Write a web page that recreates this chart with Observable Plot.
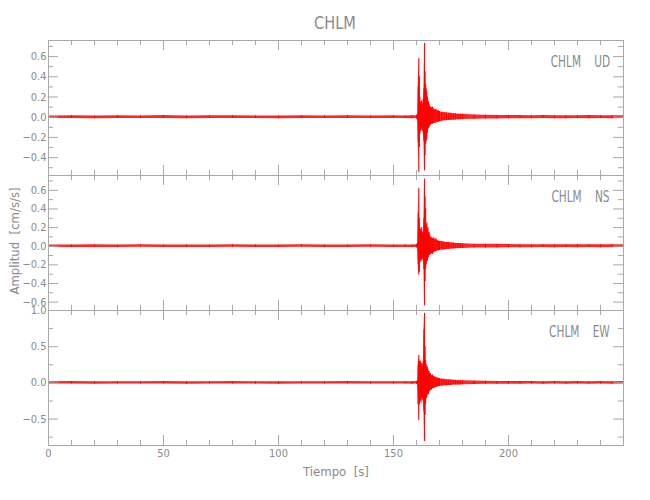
<!DOCTYPE html>
<html>
<head>
<meta charset="utf-8">
<script src="https://cdn.jsdelivr.net/npm/d3@7"></script>
<script src="https://cdn.jsdelivr.net/npm/@observablehq/plot@0.6"></script>
<style>
  html, body { margin: 0; padding: 0; background: #fff; }
  #wrap { position: relative; width: 650px; height: 500px; background: #fff; overflow: hidden;
          font-family: "Liberation Sans Narrow", "DejaVu Sans Condensed", "Roboto", sans-serif; color: #8a8a8a; }
  .lab { position: absolute; white-space: pre; line-height: 1; }
  .panel { position: absolute; left: 0; }
</style>
</head>
<body>
<div id="wrap"></div>
<script>
// ---------------- data ----------------
const title = "CHLM";
const station = "CHLM";
const components = ["UD", "NS", "EW"];
const xLabel = "Tiempo  [s]";
const yLabel = "Amplitud  [cm/s/s]";

// sample times (s) of the envelope (min/max) of each trace
const times = [0,10,20,30,40,50,60,70,80,90,100,110,120,130,140,150,155,158,160,
  160.25,160.5,160.75,161,161.25,161.5,161.75,162,162.25,162.5,162.75,163,163.25,163.5,163.75,164,
  164.25,164.5,164.75,165,165.25,165.5,165.75,166,166.5,167,167.5,168,168.5,169,169.5,170,
  171,172,173,174,175,176,177,178,179,180,
  185,190,195,200,205,210,215,220,225,230,235,240,245,250];

const udHi = [0.013,0.015,0.012,0.014,0.013,0.016,0.012,0.014,0.015,0.013,0.012,0.014,0.013,0.015,0.012,0.014,0.013,0.014,0.015,
  0.02,0.03,0.3,0.58,0.4,0.2,0.15,0.13,0.16,0.11,0.14,0.18,0.28,0.73,0.45,0.32,0.28,0.25,0.2,0.16,0.15,0.13,0.11,0.1,0.09,0.1,0.08,0.07,0.076,0.06,0.065,0.055,
  0.05,0.045,0.043,0.04,0.038,0.035,0.033,0.03,0.03,0.028,
  0.022,0.02,0.018,0.017,0.016,0.015,0.016,0.015,0.014,0.015,0.016,0.014,0.015,0.014];
const udLo = [-0.013,-0.012,-0.015,-0.013,-0.014,-0.012,-0.015,-0.013,-0.012,-0.014,-0.015,-0.012,-0.013,-0.012,-0.014,-0.013,-0.012,-0.015,-0.014,
  -0.02,-0.03,-0.25,-0.55,-0.3,-0.17,-0.14,-0.12,-0.11,-0.14,-0.12,-0.16,-0.24,-0.53,-0.38,-0.27,-0.24,-0.22,-0.16,-0.12,-0.11,-0.1,-0.09,-0.08,-0.07,-0.07,-0.06,-0.06,-0.056,-0.05,-0.05,-0.045,
  -0.04,-0.035,-0.035,-0.033,-0.03,-0.03,-0.028,-0.026,-0.025,-0.024,
  -0.02,-0.018,-0.017,-0.016,-0.015,-0.015,-0.014,-0.015,-0.016,-0.014,-0.015,-0.014,-0.015,-0.014];

const nsHi = [0.014,0.012,0.015,0.013,0.016,0.013,0.014,0.012,0.015,0.014,0.013,0.016,0.012,0.014,0.015,0.013,0.014,0.012,0.015,
  0.02,0.03,0.35,0.62,0.3,0.2,0.18,0.14,0.2,0.15,0.12,0.16,0.3,0.72,0.53,0.4,0.22,0.25,0.18,0.2,0.14,0.15,0.12,0.1,0.09,0.08,0.09,0.07,0.08,0.06,0.055,0.05,
  0.05,0.045,0.04,0.04,0.035,0.035,0.03,0.03,0.028,0.027,
  0.022,0.02,0.02,0.018,0.017,0.016,0.017,0.016,0.015,0.017,0.016,0.015,0.016,0.015];
const nsLo = [-0.012,-0.014,-0.013,-0.015,-0.012,-0.014,-0.013,-0.015,-0.012,-0.013,-0.014,-0.012,-0.015,-0.013,-0.012,-0.014,-0.013,-0.015,-0.013,
  -0.02,-0.03,-0.2,-0.31,-0.28,-0.18,-0.15,-0.17,-0.13,-0.15,-0.12,-0.15,-0.25,-0.64,-0.38,-0.25,-0.2,-0.17,-0.16,-0.13,-0.12,-0.1,-0.1,-0.09,-0.08,-0.09,-0.07,-0.06,-0.06,-0.05,-0.05,-0.045,
  -0.04,-0.04,-0.035,-0.035,-0.03,-0.03,-0.028,-0.025,-0.025,-0.024,
  -0.02,-0.02,-0.018,-0.017,-0.016,-0.016,-0.015,-0.016,-0.015,-0.016,-0.015,-0.016,-0.015,-0.015];

const ewHi = [0.016,0.018,0.015,0.017,0.016,0.019,0.015,0.017,0.018,0.016,0.015,0.017,0.016,0.018,0.015,0.017,0.016,0.017,0.018,
  0.02,0.03,0.25,0.38,0.3,0.25,0.3,0.22,0.27,0.2,0.25,0.3,0.73,0.96,0.5,0.31,0.25,0.2,0.22,0.18,0.15,0.16,0.12,0.13,0.1,0.11,0.09,0.08,0.07,0.07,0.06,0.06,
  0.05,0.05,0.045,0.04,0.04,0.035,0.035,0.03,0.03,0.03,
  0.025,0.022,0.02,0.02,0.018,0.018,0.017,0.018,0.017,0.018,0.017,0.018,0.017,0.018];
const ewLo = [-0.016,-0.015,-0.018,-0.016,-0.017,-0.015,-0.018,-0.016,-0.015,-0.017,-0.018,-0.015,-0.016,-0.015,-0.017,-0.016,-0.015,-0.018,-0.017,
  -0.02,-0.03,-0.3,-0.52,-0.3,-0.22,-0.25,-0.28,-0.2,-0.24,-0.2,-0.25,-0.4,-0.81,-0.45,-0.3,-0.22,-0.2,-0.17,-0.15,-0.16,-0.13,-0.12,-0.1,-0.1,-0.08,-0.08,-0.07,-0.06,-0.06,-0.05,-0.05,
  -0.045,-0.04,-0.04,-0.035,-0.035,-0.03,-0.03,-0.03,-0.028,-0.027,
  -0.022,-0.02,-0.02,-0.018,-0.018,-0.017,-0.018,-0.017,-0.018,-0.017,-0.018,-0.017,-0.018,-0.017];

// axes
const xDomain = [0, 250];
const xMajor = [0, 50, 100, 150, 200];
const xMinor = [10,20,30,40,60,70,80,90,110,120,130,140,160,170,180,190,210,220,230,240];

const yDomains = [[-0.577, 0.759], [-0.69, 0.759], [-0.865, 1.0]];
const yMajors = [[-0.4,-0.2,0,0.2,0.4,0.6], [-0.6,-0.4,-0.2,0,0.2,0.4,0.6], [-0.5,0,0.5,1.0]];
const yMinors = [[-0.5,-0.3,-0.1,0.1,0.3,0.5,0.7], [-0.5,-0.3,-0.1,0.1,0.3,0.5,0.7], [-0.75,-0.25,0.25,0.75]];

const his = [udHi, nsHi, ewHi];
const los = [udLo, nsLo, ewLo];

// ---------------- layout ----------------
const W = 650, mL = 48, mR = 27, panelH = 135;
const panelTops = [40, 175, 310];
const axisColor = "#a8a8a8";
const textColor = "#8a8a8a";
const font = `"Liberation Sans Narrow", "DejaVu Sans Condensed", sans-serif`;
const fmt = d3.format(".1f");
const wrap = document.getElementById("wrap");

function label(text, css) {
  const d = document.createElement("div");
  d.className = "lab";
  d.textContent = text;
  Object.assign(d.style, css);
  wrap.appendChild(d);
  return d;
}

components.forEach((comp, i) => {
  const data = times.map((t, k) => ({t, hi: his[i][k], lo: los[i][k]}));
  const last = i === components.length - 1;
  const mT = 20, mB = last ? 40 : 20;
  const plotW = W - mL - mR;
  const chart = Plot.plot({
    width: W,
    height: panelH + mT + mB,
    marginTop: mT, marginBottom: mB, marginLeft: mL, marginRight: mR,
    style: {background: "transparent", color: textColor, fontFamily: font, fontSize: "11px", overflow: "visible"},
    x: last
      ? {domain: xDomain, ticks: xMajor, tickSize: 0, tickPadding: 4, tickFormat: d => String(d), label: null}
      : {domain: xDomain, axis: null},
    y: {domain: yDomains[i], ticks: yMajors[i], tickSize: 0, tickPadding: 2, tickFormat: fmt, label: null},
    marks: [
      Plot.areaY(data, {x: "t", y1: "lo", y2: "hi", fill: "#ff0000", fillOpacity: 0.85}),
      Plot.ruleX(data, {x: "t", y1: "lo", y2: "hi", stroke: "#ff0000", strokeWidth: 1}),
      // inward ticks: bottom & top
      Plot.ruleX(xMajor, {x: d => d, stroke: axisColor, insetTop: panelH - 10}),
      Plot.ruleX(xMinor, {x: d => d, stroke: axisColor, insetTop: panelH - 5}),
      Plot.ruleX(xMajor, {x: d => d, stroke: axisColor, insetBottom: panelH - 10}),
      Plot.ruleX(xMinor, {x: d => d, stroke: axisColor, insetBottom: panelH - 5}),
      // inward ticks: left & right
      Plot.ruleY(yMajors[i], {y: d => d, stroke: axisColor, insetRight: plotW - 10}),
      Plot.ruleY(yMinors[i], {y: d => d, stroke: axisColor, insetRight: plotW - 5}),
      Plot.ruleY(yMajors[i], {y: d => d, stroke: axisColor, insetLeft: plotW - 10}),
      Plot.ruleY(yMinors[i], {y: d => d, stroke: axisColor, insetLeft: plotW - 5}),
      Plot.frame({stroke: axisColor})
    ]
  });
  chart.classList.add("panel");
  chart.style.top = (panelTops[i] - mT) + "px";
  wrap.appendChild(chart);

  // component label in the upper-right corner
  label(`${station}    ${comp}`, {
    right: (W - 610) + "px", top: (panelTops[i] + 15) + "px", fontSize: "15px",
    transform: "scaleX(0.78)", transformOrigin: "right center", color: textColor
  });
});

// title and axis titles
label(title, {left: "235px", width: "200px", top: "14px", fontSize: "18px",
  textAlign: "center", color: textColor, transform: "scaleX(0.9)"});
label(xLabel, {left: "236px", width: "200px", top: "465px", fontSize: "13px", textAlign: "center", color: textColor});
label(yLabel, {left: "14px", top: "241px", fontSize: "13px", color: textColor,
  transform: "translate(-50%, -50%) rotate(-90deg)"});
</script>
</body>
</html>
